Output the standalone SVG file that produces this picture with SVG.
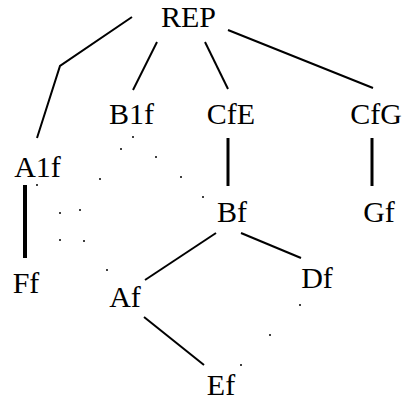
<svg xmlns="http://www.w3.org/2000/svg" width="404" height="405" viewBox="0 0 404 405">
<style>
.lbl{font-family:"Liberation Serif","Times New Roman",serif;font-size:30px;fill:#000;text-anchor:middle}
.e{stroke:#000;stroke-width:2;fill:none;stroke-linecap:butt}
.v{stroke:#000;stroke-width:3;fill:none}
.vv{stroke:#000;stroke-width:4;fill:none}
.d{fill:#000}
</style>
<rect width="404" height="405" fill="#fff"/>
<g id="connectors">
<polyline class="e" points="132,17 60,66 37,138"/>
<line class="e" x1="157" y1="42" x2="133" y2="90"/>
<line class="e" x1="205" y1="42" x2="228" y2="89"/>
<line class="e" x1="228" y1="30" x2="373" y2="88"/>
<line class="v" x1="228" y1="138" x2="228" y2="186"/>
<line class="v" x1="372" y1="138" x2="372" y2="186"/>
<line class="vv" x1="25" y1="185" x2="25" y2="258"/>
<line class="e" x1="216" y1="233" x2="145" y2="280"/>
<line class="e" x1="241" y1="233" x2="301" y2="258"/>
<line class="e" x1="144" y1="317" x2="204" y2="365"/>
<g id="dotted">
<circle class="d" cx="133" cy="137" r="1"/>
<circle class="d" cx="156" cy="157" r="1"/>
<circle class="d" cx="181" cy="177" r="1"/>
<circle class="d" cx="203" cy="197" r="1"/>
<circle class="d" cx="121" cy="149" r="1"/>
<circle class="d" cx="100" cy="179" r="1"/>
<circle class="d" cx="80" cy="210" r="1"/>
<circle class="d" cx="60" cy="240" r="1"/>
<circle class="d" cx="37" cy="185" r="1"/>
<circle class="d" cx="60" cy="213" r="1"/>
<circle class="d" cx="84" cy="241" r="1"/>
<circle class="d" cx="107" cy="270" r="1"/>
<circle class="d" cx="300" cy="305" r="1"/>
<circle class="d" cx="270" cy="335" r="1"/>
<circle class="d" cx="241" cy="365" r="1"/>
</g>
</g>
<g id="REP"><text class="lbl" x="188.5" y="27">REP</text></g>
<g id="B1f"><text class="lbl" x="131.5" y="124">B1f</text></g>
<g id="CfE"><text class="lbl" x="231" y="124">CfE</text></g>
<g id="CfG"><text class="lbl" x="376" y="124">CfG</text></g>
<g id="A1f"><text class="lbl" x="37.5" y="177">A1f</text></g>
<g id="Bf"><text class="lbl" x="232" y="222">Bf</text></g>
<g id="Gf"><text class="lbl" x="379" y="222">Gf</text></g>
<g id="Ff"><text class="lbl" x="26" y="293">Ff</text></g>
<g id="Af"><text class="lbl" x="125" y="307">Af</text></g>
<g id="Df"><text class="lbl" x="317" y="288">Df</text></g>
<g id="Ef"><text class="lbl" x="221" y="395">Ef</text></g>
</svg>
